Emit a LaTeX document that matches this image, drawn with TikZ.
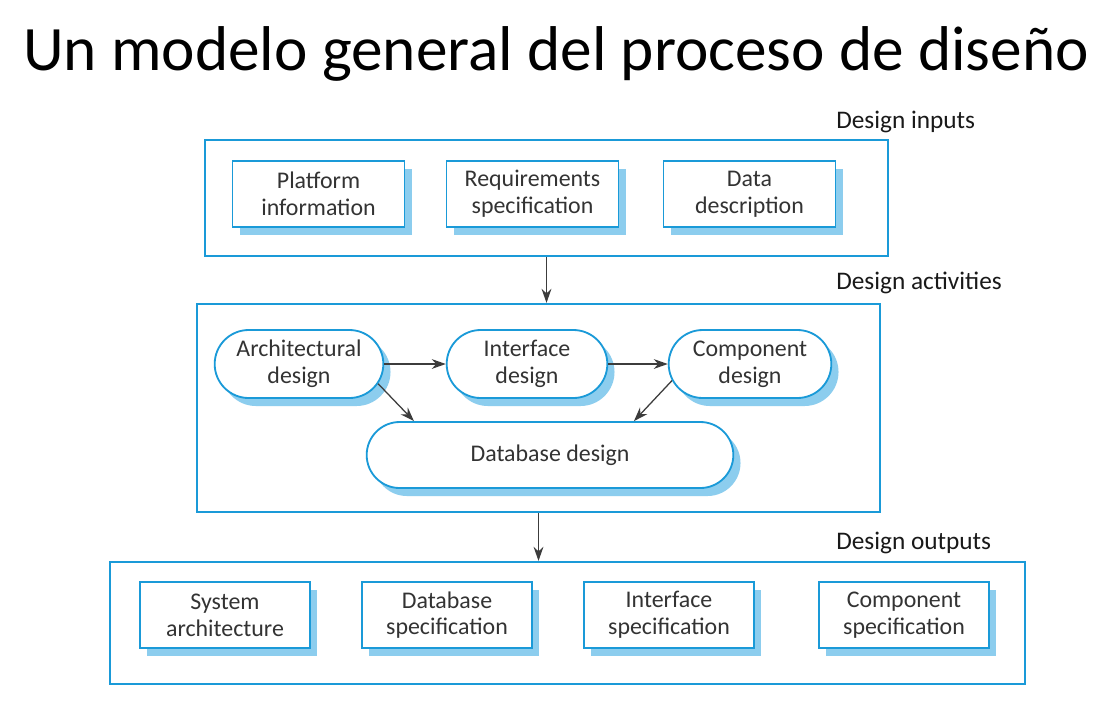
\documentclass[tikz,border=0pt]{standalone}
\usepackage{fontspec}
\setmainfont{Carlito}
\usepackage{xcolor}
\usetikzlibrary{arrows.meta, shadows, shapes.misc}
\definecolor{frame-blue}{HTML}{1A9AD8}
\definecolor{shade-blue}{HTML}{8CCDEE}
\definecolor{arrow-gray}{HTML}{3C3C3C}

\begin{document}
\begin{tikzpicture}[
          every node/.style={font=\fontsize{17}{19}\selectfont, text=black!80},
          stage/.style={draw=frame-blue, line width=1.6pt, fill=white},
          caption/.style={anchor=west, inner sep=0pt, font=\fontsize{18}{20}\selectfont, text=black!90},
          item/.style={draw=frame-blue, line width=1.3pt, fill=white,
            align=center, minimum width=4.3cm, minimum height=1.65cm,
            drop shadow={shadow xshift=0.18cm, shadow yshift=-0.2cm,
            fill=shade-blue, opacity=1}},
          activity/.style={item, rounded rectangle},
          flow/.style={-{Stealth[length=10pt, width=7pt]}, arrow-gray, line width=0.9pt}]
      \useasboundingbox (0,0) rectangle (27.8,-17.825);
      % title
      \node[font=\fontsize{45}{52}\selectfont, text=black] (title) at (13.9,-1.35)
            {Un modelo general del proceso de diseño};

      % design inputs
      \node[caption] (lblIn) at (20.9,-3.05) {Design inputs};
      \node[stage, minimum width=17.075cm, minimum height=2.9cm]
            (inputs) at (13.6625,-4.95) {};
      \node[item] (Platform) at (7.9625,-4.85) {Platform\\information};
      \node[item] (Reqs) at (13.3125,-4.85) {Requirements\\specification};
      \node[item] (Data) at (18.7375,-4.85) {Data\\description};

      % design activities
      \node[caption] (lblAct) at (20.9,-7.075) {Design activities};
      \node[stage, minimum width=17.075cm, minimum height=5.2cm]
            (activities) at (13.4625,-10.2) {};
      \node[activity, minimum width=4.45cm, minimum height=1.7cm]
            (Arch) at (7.475,-9.1) {Architectural\\design};
      \node[activity, minimum width=4.25cm, minimum height=1.7cm]
            (Iface) at (13.175,-9.1) {Interface\\design};
      \node[activity, minimum width=4.3cm, minimum height=1.7cm]
            (Comp) at (18.75,-9.1) {Component\\design};
      \node[activity, minimum width=9.4cm, minimum height=1.65cm]
            (DB) at (13.75,-11.375) {Database design};
      \draw[flow] (Arch.east) -- (Iface.west);
      \draw[flow] (Iface.east) -- (Comp.west);
      \draw[flow] (Arch.-14) -- (DB.166);
      \draw[flow] (Comp.192) -- (DB.22);

      % design outputs
      \node[caption] (lblOut) at (20.9,-13.575) {Design outputs};
      \node[stage, minimum width=22.875cm, minimum height=3.05cm]
            (outputs) at (14.1875,-15.575) {};
      \node[item, minimum width=4.25cm] (SysArch) at (5.625,-15.375) {System\\architecture};
      \node[item, minimum width=4.25cm] (DBSpec) at (11.175,-15.375) {Database\\specification};
      \node[item, minimum width=4.25cm] (IfSpec) at (16.725,-15.375) {Interface\\specification};
      \node[item, minimum width=4.25cm] (CompSpec) at (22.6,-15.375) {Component\\specification};

      \draw[flow] (inputs.south) -- (inputs.south |- activities.north);
      \draw[flow] (activities.south) -- (activities.south |- outputs.north);
    \end{tikzpicture}
\end{document}
